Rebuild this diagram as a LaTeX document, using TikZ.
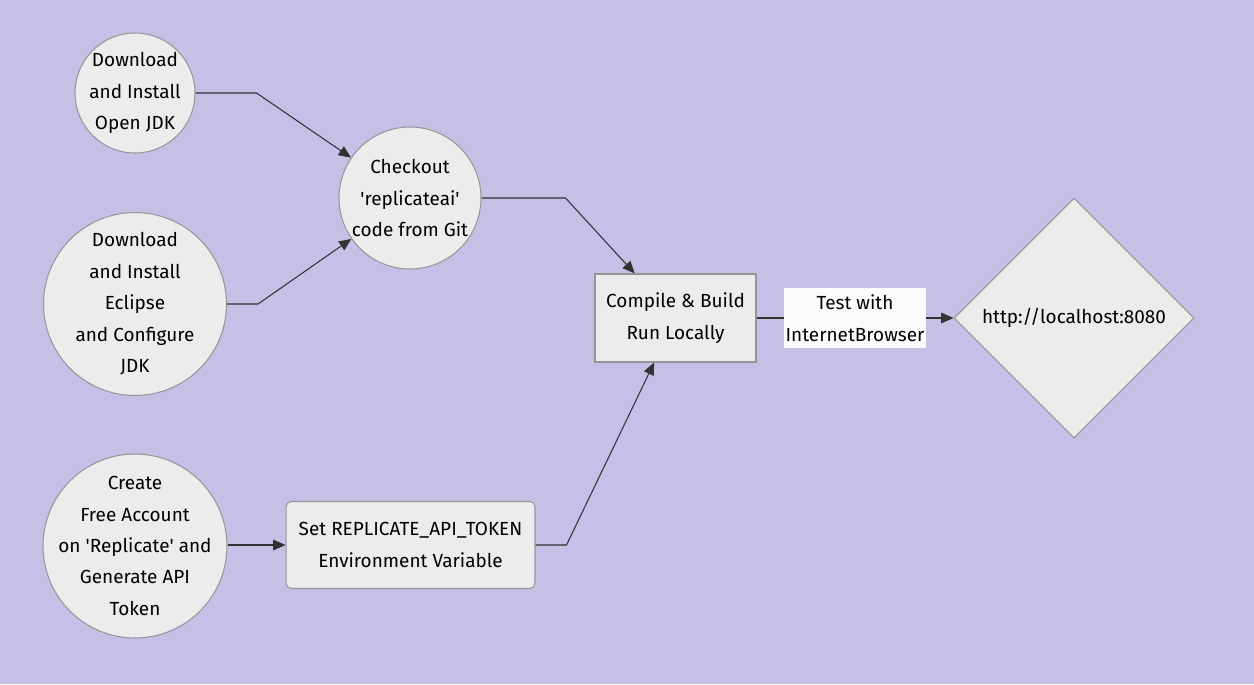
\documentclass[tikz,border=0pt]{standalone}
\usepackage{fontspec}
\setmainfont{Fira Sans}
\usepackage{xcolor}
\usetikzlibrary{positioning, shapes.geometric, arrows.meta}
\definecolor{canvas}{RGB}{199, 191, 230}
\definecolor{boxfill}{RGB}{236, 236, 236}
\definecolor{boxline}{RGB}{150, 150, 150}
\definecolor{flowline}{RGB}{51, 51, 51}
\newcommand{\flowfont}{\fontsize{10.8}{17.9}\selectfont}

\tikzset{
  stepcircle/.style={circle, draw=boxline, fill=boxfill, line width=0.6pt,
    align=center, inner sep=-10pt, font=\flowfont},
  stepbox/.style={rectangle, draw=boxline, fill=boxfill, line width=0.6pt,
    align=center, inner sep=2pt, font=\flowfont},
  flow/.style={-{Triangle[length=7pt,width=6pt]}, draw=flowline, line width=0.6pt},
  flowlabel/.style={fill=white!97!gray, align=center, inner xsep=1pt, inner ysep=4pt, font=\flowfont}
}

\begin{document}
\begin{tikzpicture}[x=0.02cm, y=-0.02cm]
  \fill[canvas] (0,0) rectangle (1254,684);

  % left column
  \node[stepcircle, minimum size=2.4cm] (jdk) at (135,93) {Download\\and Install\\Open JDK};
  \node[stepcircle, minimum size=3.66cm] (eclipse) at (135,304) {Download\\and Install\\Eclipse\\and Configure\\JDK};
  \node[stepcircle, minimum size=3.68cm] (account) at (135,546) {Create\\Free Account\\on \textquotesingle Replicate\textquotesingle{} and\\Generate API\\Token};

  % middle
  \node[stepcircle, minimum size=2.84cm] (checkout) at (410,198) {Checkout\\\textquotesingle replicateai\textquotesingle\\code from Git};
  \node[stepbox, rounded corners=3pt, minimum width=4.98cm, minimum height=1.74cm] (apitoken) at (410.5,545) {Set REPLICATE\_API\_TOKEN\\Environment Variable};
  \node[stepbox, minimum width=3.22cm, minimum height=1.76cm] (compile) at (675.5,318) {Compile \& Build\\Run Locally};

  % target
  \node[diamond, aspect=1, draw=boxline, fill=boxfill, line width=0.6pt, inner sep=0pt,
    minimum size=4.8cm, font=\flowfont] (localhost) at (1074,318) {http://localhost:8080};

  \draw[flow] (jdk.east) -- ++(61,0) -- (checkout);
  \draw[flow] (eclipse.east) -- ++(31,0) -- (checkout);
  \draw[flow] (checkout.east) -- ++(84,0) -- (compile);
  \draw[flow] (account.east |- apitoken.west) -- (apitoken.west);
  \draw[flow] (apitoken.east) -- ++(31,0) -- (compile);
  \draw[flow] (compile.east) -- node[flowlabel] {Test with\\InternetBrowser} (localhost.west);
\end{tikzpicture}
\end{document}
